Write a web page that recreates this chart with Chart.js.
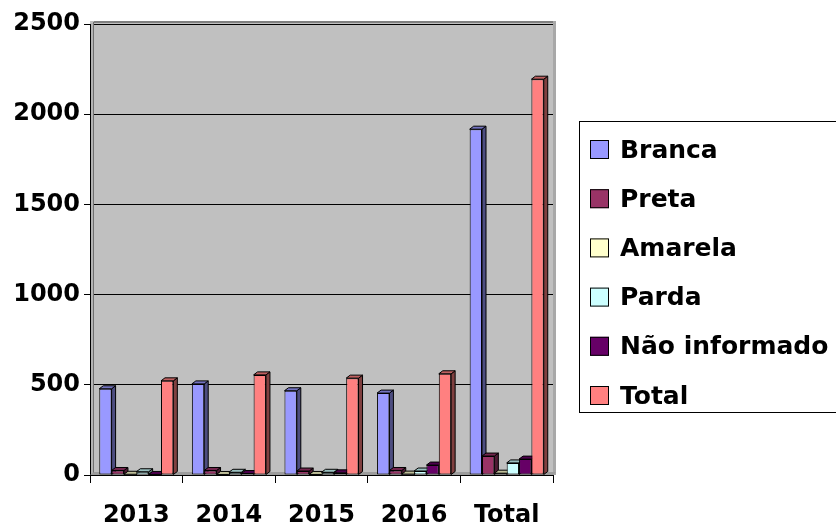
<!DOCTYPE html>
<html>
<head>
<meta charset="utf-8">
<script src="https://cdn.jsdelivr.net/npm/chart.js@4/dist/chart.umd.min.js"></script>
<style>
  html, body { margin: 0; padding: 0; background: #ffffff; }
  #wrap { width: 836px; height: 526px; position: relative; }
</style>
</head>
<body>
<div id="wrap"><canvas id="c"></canvas></div>
<script>
// Categories and series values
const categories = ['2013', '2014', '2015', '2016', 'Total'];
const branca       = [478, 505, 467, 454, 1917];
const preta        = [25, 25, 22, 25, 105];
const amarela      = [4, 3, 3, 5, 10];
const parda        = [18, 15, 15, 22, 67];
const naoInformado = [3, 8, 12, 55, 88];
const total        = [522, 555, 537, 561, 2194];
const yTicks       = [0, 500, 1000, 1500, 2000, 2500];

const seriesNames  = ['Branca', 'Preta', 'Amarela', 'Parda', 'Não informado', 'Total'];
const seriesValues = [branca, preta, amarela, parda, naoInformado, total];
const seriesColors = ['#9999FF', '#993366', '#FFFFCC', '#CCFFFF', '#660066', '#FF8080'];

const FONT = 'DejaVu Sans';
const DEPTH_X = 4, DEPTH_Y = 3;

function shade(hex, f) {
  const n = parseInt(hex.slice(1), 16);
  const r = Math.round(((n >> 16) & 255) * f);
  const g = Math.round(((n >> 8) & 255) * f);
  const b = Math.round((n & 255) * f);
  return `rgb(${r},${g},${b})`;
}

// Grey walls behind the plot
const wallPlugin = {
  id: 'walls',
  beforeDraw(chart) {
    const { ctx, chartArea: a } = chart;
    ctx.save();
    ctx.fillStyle = '#C0C0C0';
    ctx.fillRect(a.left, a.top - DEPTH_Y, a.right - a.left + 3, a.bottom - a.top + DEPTH_Y);
    // top edge of the back wall
    ctx.fillStyle = '#808080';
    ctx.fillRect(a.left + DEPTH_X, a.top - DEPTH_Y, a.right - a.left - DEPTH_X + 1, 2);
    // right edge
    ctx.fillStyle = '#A8A8A8';
    ctx.fillRect(a.right, a.top - DEPTH_Y, 3, a.bottom - a.top + DEPTH_Y);
    ctx.restore();
  },
  beforeDatasetsDraw(chart) {
    const { ctx, chartArea: a } = chart;
    ctx.save();
    // left side wall
    ctx.fillStyle = '#B4B4B4';
    ctx.fillRect(a.left + 1, a.top - 1, DEPTH_X - 1, a.bottom - a.top);
    ctx.fillStyle = '#707070';
    ctx.fillRect(a.left + DEPTH_X - 1, a.top - DEPTH_Y + 1, 1, a.bottom - a.top);
    // floor
    ctx.fillStyle = '#9C9C9C';
    ctx.beginPath();
    ctx.moveTo(a.left, a.bottom);
    ctx.lineTo(a.left + DEPTH_X, a.bottom - DEPTH_Y);
    ctx.lineTo(a.right + 3, a.bottom - DEPTH_Y);
    ctx.lineTo(a.right, a.bottom);
    ctx.closePath();
    ctx.fill();
    // side and top faces of every bar, under the front faces
    chart.data.datasets.forEach((ds, di) => {
      const meta = chart.getDatasetMeta(di);
      meta.data.forEach((bar) => {
        const w = bar.width;
        const l = bar.x - w / 2, r = bar.x + w / 2;
        const t = bar.y, b = bar.base;
        ctx.lineWidth = 1;
        ctx.strokeStyle = '#000000';
        ctx.fillStyle = shade(ds.backgroundColor, 0.5);
        ctx.beginPath();
        ctx.moveTo(r, t);
        ctx.lineTo(r + DEPTH_X, t - DEPTH_Y);
        ctx.lineTo(r + DEPTH_X, b - DEPTH_Y);
        ctx.lineTo(r, b);
        ctx.closePath();
        ctx.fill();
        ctx.stroke();
        ctx.fillStyle = shade(ds.backgroundColor, 0.75);
        ctx.beginPath();
        ctx.moveTo(l, t);
        ctx.lineTo(l + DEPTH_X, t - DEPTH_Y);
        ctx.lineTo(r + DEPTH_X, t - DEPTH_Y);
        ctx.lineTo(r, t);
        ctx.closePath();
        ctx.fill();
        ctx.stroke();
      });
    });
    ctx.restore();
  }
};

// Boxed legend at the right
const legendPlugin = {
  id: 'boxLegend',
  afterDraw(chart) {
    const { ctx } = chart;
    ctx.save();
    ctx.strokeStyle = '#000000';
    ctx.lineWidth = 1;
    ctx.strokeRect(579.5, 121.5, 270, 291);
    ctx.font = `bold 25px "${FONT}"`;
    ctx.textBaseline = 'middle';
    ctx.textAlign = 'left';
    chart.data.datasets.forEach((ds, i) => {
      const cy = 149 + i * 49.2;
      ctx.fillStyle = ds.backgroundColor;
      ctx.fillRect(590, cy - 9, 19, 19);
      ctx.strokeRect(590.5, cy - 8.5, 18, 18);
      ctx.fillStyle = '#000000';
      ctx.fillText(ds.label, 620, cy + 2);
    });
    ctx.restore();
  }
};

const datasets = seriesNames.map((name, i) => ({
  label: name,
  data: seriesValues[i],
  backgroundColor: seriesColors[i],
  borderColor: '#000000',
  borderWidth: 1,
  borderSkipped: false,
  categoryPercentage: 0.8,
  barPercentage: 1.0
}));

new Chart(document.getElementById('c'), {
  type: 'bar',
  data: { labels: categories, datasets },
  plugins: [wallPlugin, legendPlugin],
  options: {
    responsive: true,
    maintainAspectRatio: false,
    animation: false,
    devicePixelRatio: 1,
    layout: { padding: { left: 0, right: 283, top: 24, bottom: 0 } },
    plugins: { legend: { display: false }, tooltip: { enabled: false } },
    scales: {
      x: {
        offset: true,
        grid: { offset: true, drawOnChartArea: false, drawTicks: true, tickLength: 8, color: '#000000' },
        border: { color: '#000000', width: 1 },
        ticks: { color: '#000000', font: { family: FONT, weight: 'bold', size: 24 }, padding: 18, maxRotation: 0 },
        afterFit(scale) { scale.height = 51; }
      },
      y: {
        min: 0,
        max: 2500,
        afterBuildTicks(scale) { scale.ticks = yTicks.map(v => ({ value: v })); },
        grid: { color: '#000000', lineWidth: 1, tickLength: 6 },
        border: { color: '#000000', width: 1 },
        ticks: {
          color: '#000000',
          font: { family: FONT, weight: 'bold', size: 24 },
          padding: 4,
          callback: (v) => String(v)
        },
        afterFit(scale) { scale.width = 90; }
      }
    }
  }
});
</script>
</body>
</html>
